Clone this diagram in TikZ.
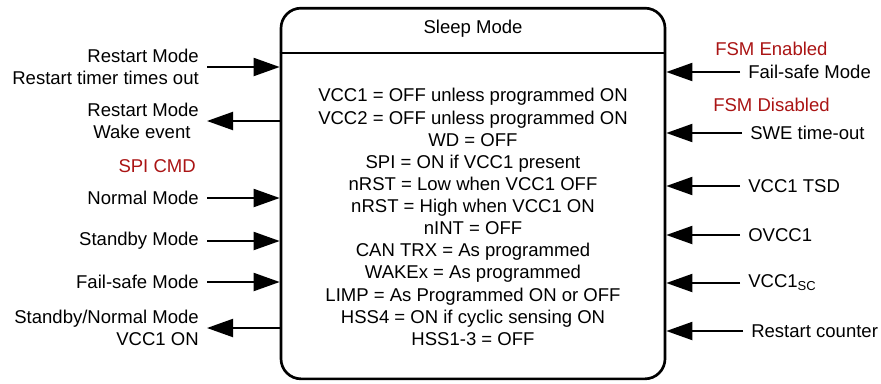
\documentclass[tikz,border=0pt]{standalone}
\usepackage{fontspec}
\setmainfont{Liberation Sans}
\usepackage{xcolor}
\usepackage{tikz}
\usetikzlibrary{arrows.meta, positioning, calc}
\definecolor{fsmred}{RGB}{170,20,20}

\begin{document}
\begin{tikzpicture}[x=0.75pt, y=-0.75pt, font=\fontsize{13.9}{16.6}\selectfont,
    flow/.style={-{Triangle[length=19.5pt, width=13.5pt]}, line width=1.5pt},
    lefttext/.style={anchor=east, align=right, inner xsep=6pt, inner ysep=0pt},
    righttext/.style={anchor=west, align=left, inner xsep=6pt, inner ysep=0pt},
    redtext/.style={text=fsmred, inner sep=0pt}]

    \useasboundingbox (0,0) rectangle (881,383);

    % state box
    \node[draw, line width=2pt, rounded corners=15pt, minimum width=288pt, minimum height=278pt] (sleep) at (473,193.5) {};
    \node (title) at (473,29) {Sleep Mode};
    \coordinate (hdr) at (473,53);
    \draw[line width=2pt] (sleep.west |- hdr) -- (sleep.east |- hdr);
    \node[align=center, inner sep=0pt] (body) at (473,217) {VCC1 = OFF unless programmed ON\\VCC2 = OFF unless programmed ON\\WD = OFF\\SPI = ON if VCC1 present\\nRST = Low when VCC1 OFF\\nRST = High when VCC1 ON\\nINT = OFF\\CAN TRX = As programmed\\WAKEx = As programmed\\LIMP = As Programmed ON or OFF\\HSS4 = ON if cyclic sensing ON\\HSS1-3 = OFF};

    % left side
    \node[lefttext] (rtimer) at (207,67) {Restart Mode\\Restart timer times out};
    \node[lefttext] (wake) at (207,121) {Restart Mode\\Wake event\ \,};
    \node[redtext, anchor=east] (spicmd) at (196,166) {SPI CMD};
    \node[lefttext] (normal) at (207,198) {Normal Mode};
    \node[lefttext] (standby) at (207,241) {Standby Mode};
    \node[lefttext] (failsafe) at (207,282) {Fail-safe Mode};
    \node[lefttext] (vccon) at (207,328) {Standby/Normal Mode\\VCC1 ON};

    \draw[flow] (rtimer.east) -- (rtimer.east -| sleep.west);
    \draw[flow] (wake.east -| sleep.west) -- (wake.east);
    \draw[flow] (normal.east) -- (normal.east -| sleep.west);
    \draw[flow] (standby.east) -- (standby.east -| sleep.west);
    \draw[flow] (failsafe.east) -- (failsafe.east -| sleep.west);
    \draw[flow] (vccon.east -| sleep.west) -- (vccon.east);

    % right side
    \node[redtext, anchor=west] (fsmen) at (715,49) {FSM Enabled};
    \node[righttext] (fsmode) at (740,72) {Fail-safe Mode};
    \node[redtext, anchor=west] (fsmdis) at (713,105) {FSM Disabled};
    \node[righttext] (swe) at (742,133) {SWE time-out};
    \node[righttext] (tsd) at (740,186) {VCC1 TSD};
    \node[righttext] (ovcc) at (740,235) {OVCC1};
    \node[righttext] (vccsc) at (740,283) {VCC1\textsubscript{SC}};
    \node[righttext] (rcount) at (743,331) {Restart counter};

    \draw[flow] (fsmode.west) -- (fsmode.west -| sleep.east);
    \draw[flow] (swe.west) -- (swe.west -| sleep.east);
    \draw[flow] (tsd.west) -- (tsd.west -| sleep.east);
    \draw[flow] (ovcc.west) -- (ovcc.west -| sleep.east);
    \draw[flow] (vccsc.west) -- (vccsc.west -| sleep.east);
    \draw[flow] (rcount.west) -- (rcount.west -| sleep.east);
\end{tikzpicture}
\end{document}
